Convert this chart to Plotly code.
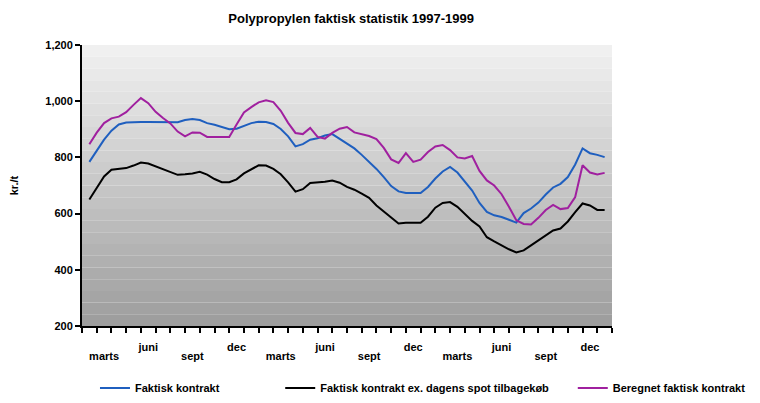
import plotly.graph_objects as go

# month categories Feb 1997 .. Jan 2000 (index 0..35), data sampled every half month
months = ["feb", "marts", "april", "maj", "juni", "juli", "aug", "sept", "okt", "nov", "dec", "jan"] * 3
t = [i * 0.5 for i in range(71)]

faktisk_kontrakt = [784, 824, 863, 895, 917, 924, 926, 926, 926, 926, 926, 926, 925, 933, 937, 933,
                    922, 916, 908, 900, 902, 912, 922, 927, 926, 919, 901, 875, 839, 847, 863, 868,
                    878, 883, 866, 848, 832, 809, 785, 759, 730, 698, 679, 673, 673, 673, 695, 725,
                    750, 766, 746, 712, 682, 638, 606, 594, 588, 578, 568, 602, 618, 639, 668, 693,
                    706, 730, 775, 832, 815, 809, 801]

faktisk_kontrakt_ex = [650, 691, 732, 756, 759, 762, 771, 782, 778, 768, 756, 746, 738, 740, 743, 749,
                       739, 723, 712, 712, 722, 743, 759, 772, 771, 759, 740, 711, 678, 687, 709, 711,
                       713, 718, 710, 695, 685, 671, 656, 629, 608, 586, 565, 567, 567, 567, 589, 621,
                       638, 641, 624, 599, 574, 554, 516, 501, 486, 473, 462, 469, 487, 504, 521, 540,
                       547, 572, 605, 636, 629, 613, 613]

beregnet_faktisk = [847, 888, 922, 939, 945, 961, 987, 1011, 993, 962, 940, 921, 892, 875, 889, 888,
                    873, 873, 873, 873, 917, 960, 979, 996, 1003, 997, 966, 923, 887, 883, 905, 873,
                    867, 887, 902, 908, 889, 883, 876, 865, 834, 793, 780, 815, 784, 792, 819, 839,
                    844, 826, 800, 796, 805, 752, 718, 700, 669, 624, 576, 563, 561, 585, 613, 631,
                    616, 620, 659, 772, 746, 739, 745]

series_names = ["Faktisk kontrakt",
                "Faktisk kontrakt ex. dagens spot tilbagekøb",
                "Beregnet faktisk kontrakt"]
series_colors = ["#1f5fbf", "#000000", "#a0209f"]
legend_ids = ["legend", "legend2", "legend3"]
legend_x = [0.0245, 0.374, 0.926]

label_idx_high = [i for i, m in enumerate(months) if m in ("juni", "dec")]
label_idx_low = [i for i, m in enumerate(months) if m in ("marts", "sept")]

FONT = "Liberation Sans, Arial, sans-serif"

fig = go.Figure()
for name, vals, col, lg in zip(series_names, [faktisk_kontrakt, faktisk_kontrakt_ex, beregnet_faktisk],
                               series_colors, legend_ids):
    fig.add_trace(go.Scatter(x=t, y=vals, mode="lines", name=name, legend=lg,
                             line=dict(color=col, width=2), xaxis="x", yaxis="y"))

# gradient background bands
n_bands = 24
top_c, bot_c = 240, 158
shapes = []
for b in range(n_bands):
    g = round(top_c + (bot_c - top_c) * b / (n_bands - 1))
    shapes.append(dict(type="rect", xref="x domain", yref="y domain", layer="below",
                       x0=0, x1=1, y0=1 - (b + 1) / n_bands, y1=1 - b / n_bands,
                       fillcolor=f"rgb({g},{g},{g})", line=dict(width=0)))

legend_common = dict(orientation="h", xanchor="left", yref="container", y=0.037, yanchor="middle",
                     font=dict(size=11, weight="bold"), bgcolor="rgba(0,0,0,0)")

fig.update_layout(
    width=760, height=403,
    margin=dict(l=82, r=148, t=45, b=77),
    paper_bgcolor="white", plot_bgcolor="white",
    shapes=shapes,
    font=dict(family=FONT, size=11, color="black", weight="bold"),
    title=dict(text="Polypropylen faktisk statistik 1997-1999", x=0.462, xanchor="center",
               y=0.955, yanchor="middle", font=dict(size=13, weight="bold")),
    showlegend=True,
    legend=dict(x=legend_x[0], **legend_common),
    legend2=dict(x=legend_x[1], **legend_common),
    legend3=dict(x=legend_x[2], **legend_common),
    xaxis=dict(range=[-0.5, 35.5], showgrid=False, zeroline=False,
               showline=True, linecolor="black", linewidth=2,
               tickmode="array", tickvals=label_idx_high,
               ticktext=[months[i] for i in label_idx_high], ticks="",
               ticklabelstandoff=10,
               minor=dict(tickmode="array", tickvals=[i - 0.5 for i in range(37)],
                          ticks="outside", ticklen=5, tickcolor="black", tickwidth=2, showgrid=False)),
    xaxis2=dict(range=[-0.5, 35.5], overlaying="x", matches="x", anchor="y", side="bottom",
                showgrid=False, zeroline=False, showline=False,
                tickmode="array", tickvals=label_idx_low,
                ticktext=[months[i] for i in label_idx_low], ticks="",
                ticklabelstandoff=22),
    yaxis=dict(range=[200, 1200], showgrid=False, zeroline=False,
               showline=True, linecolor="black", linewidth=2,
               tickmode="array", tickvals=[200, 400, 600, 800, 1000, 1200],
               tickformat=",", ticks="outside", ticklen=5, tickwidth=2, tickcolor="black",
               title=dict(text="kr./t", standoff=24, font=dict(size=11, weight="bold"))),
)
# invisible helper trace so the label axis (xaxis2) is drawn
fig.add_trace(go.Scatter(x=[0], y=[None], xaxis="x2", yaxis="y", showlegend=False,
                         hoverinfo="skip", mode="lines"))

fig.write_html("out.html", config={"displayModeBar": False},
               post_script="document.body.style.margin='0';")
